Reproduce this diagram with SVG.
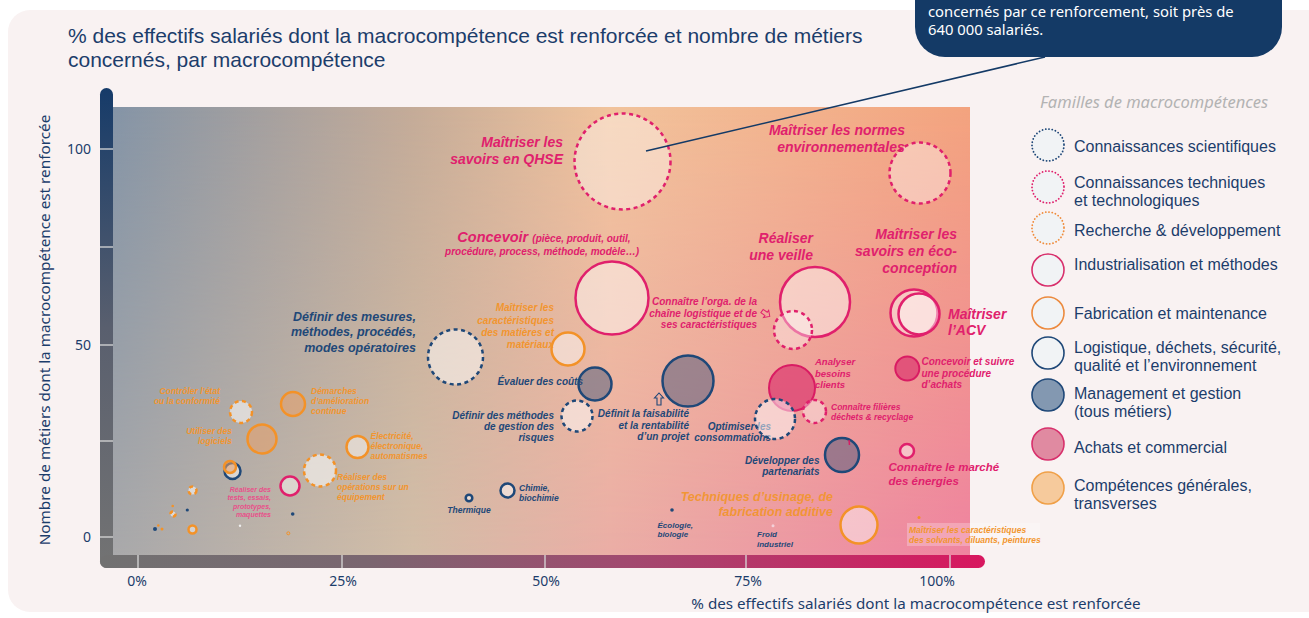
<svg xmlns="http://www.w3.org/2000/svg" width="1309" height="618" viewBox="0 0 1309 618">
<defs>
<linearGradient id="gTop" x1="0" x2="1" y1="0" y2="0">
<stop offset="0" stop-color="#8494a6"/><stop offset="0.35" stop-color="#c4ab98"/><stop offset="0.58" stop-color="#f1c39c"/><stop offset="1" stop-color="#f3a37e"/>
</linearGradient>
<linearGradient id="gBot" x1="0" x2="1" y1="0" y2="0">
<stop offset="0" stop-color="#a9a9ab"/><stop offset="0.35" stop-color="#d3bea8"/><stop offset="0.58" stop-color="#ebaea6"/><stop offset="1" stop-color="#ef84a1"/>
</linearGradient>
<linearGradient id="gV" x1="0" y1="0" x2="0" y2="1">
<stop offset="0" stop-color="#fff"/><stop offset="1" stop-color="#000"/>
</linearGradient>
<mask id="mV" maskUnits="userSpaceOnUse" x="113" y="107" width="857" height="448">
<rect x="113" y="107" width="857" height="448" fill="url(#gV)"/>
</mask>
<linearGradient id="gY" x1="0" y1="0" x2="0" y2="1">
<stop offset="0" stop-color="#163b69"/><stop offset="0.5" stop-color="#595f6e"/><stop offset="1" stop-color="#737373"/>
</linearGradient>
<linearGradient id="gX" x1="0" y1="0" x2="1" y2="0">
<stop offset="0" stop-color="#717171"/><stop offset="0.3" stop-color="#7a6670"/><stop offset="0.6" stop-color="#a2496f"/><stop offset="1" stop-color="#d8175f"/>
</linearGradient>
<style>
.ui{font-family:"Noto Sans","Liberation Sans",sans-serif;fill:#1c3d6b}
.lt{font-family:"Liberation Sans",Arial,sans-serif;fill:#1c3d6b}
.lb{font-family:"Liberation Sans",Arial,sans-serif;font-weight:bold;font-style:italic}
.pk{fill:#e0216d}.nv{fill:#1f4878}.or{fill:#f2952f}.pl{fill:#e8508a}
.dp{fill:#fff;fill-opacity:.38;stroke:#e0206c;stroke-width:2.5;stroke-dasharray:4 3.5}
.sp{fill:#fff;fill-opacity:.45;stroke:#e0206c;stroke-width:2.5}
.fp{fill:#dc3a70;fill-opacity:.72;stroke:#d91c63;stroke-width:2}
.dn{fill:#fff;fill-opacity:.5;stroke:#1f4878;stroke-width:2.5;stroke-dasharray:4 3.5}
.sn{fill:#fff;fill-opacity:.5;stroke:#1f4878;stroke-width:2.5}
.fn{fill:#3a4f78;fill-opacity:.45;stroke:#1f4878;stroke-width:2.5}
.so{fill:#fff;fill-opacity:.45;stroke:#f39228;stroke-width:2.5}
.fo{fill:#e8a06a;fill-opacity:.55;stroke:#f39228;stroke-width:2.5}
.do{fill:#fff;fill-opacity:.55;stroke:#f39228;stroke-width:2.5;stroke-dasharray:4 3.5}
.lg{stroke-width:1.6}
.dot{stroke-dasharray:0.1 3.2;stroke-linecap:round;stroke-width:1.8}
</style>
</defs>
<rect width="1309" height="618" fill="#ffffff"/>
<rect x="8" y="10" width="1330" height="602" rx="22" fill="#f9f2f2"/>

<g id="title">
<text class="lt" x="68" y="43" font-size="21">% des effectifs salariés dont la macrocompétence est renforcée et nombre de métiers</text>
<text class="lt" x="68" y="67" font-size="21">concernés, par macrocompétence</text>
</g>

<g id="plot">
<rect x="113" y="107" width="857" height="448" fill="url(#gBot)"/>
<rect x="113" y="107" width="857" height="448" fill="url(#gTop)" mask="url(#mV)"/>
</g>

<g id="axes">
<rect x="100" y="88" width="13" height="480" rx="6.5" fill="url(#gY)"/>
<rect x="100" y="555" width="885" height="13" rx="6.5" fill="url(#gX)"/>
<g stroke="#d9d9d9" stroke-width="1.3">
<line x1="100" y1="149" x2="113" y2="149"/><line x1="100" y1="247" x2="113" y2="247"/><line x1="100" y1="345" x2="113" y2="345"/><line x1="100" y1="441" x2="113" y2="441"/><line x1="100" y1="537" x2="113" y2="537"/>
<line x1="138" y1="555" x2="138" y2="568"/><line x1="342" y1="555" x2="342" y2="568"/><line x1="545" y1="555" x2="545" y2="568"/><line x1="746" y1="555" x2="746" y2="568"/><line x1="950" y1="555" x2="950" y2="568"/>
</g>
<g class="ui" font-size="14" text-anchor="end">
<text x="91" y="154">100</text><text x="91" y="350">50</text><text x="91" y="542">0</text>
</g>
<g class="ui" font-size="14" text-anchor="middle">
<text x="137" y="586">0%</text><text x="343" y="586">25%</text><text x="546" y="586">50%</text><text x="748" y="586">75%</text><text x="937" y="586">100%</text>
</g>
<text class="ui" x="916" y="609" font-size="15.2" text-anchor="middle">% des effectifs salariés dont la macrocompétence est renforcée</text>
<text class="ui" font-size="15.3" text-anchor="middle" transform="translate(50,330) rotate(-90)">Nombre de métiers dont la macrocompétence est renforcée</text>
</g>

<g id="small-points">
<circle cx="192.5" cy="490.5" r="4" class="do" stroke-width="2" stroke-dasharray="2 2"/>
<circle cx="173" cy="514" r="2.5" class="do" stroke-width="1.5" stroke-dasharray="1.5 1.5"/>
<circle cx="192.5" cy="529.5" r="4" class="so" stroke-width="2"/>
<circle cx="187.3" cy="510" r="1.6" fill="#1f4878"/>
<circle cx="155" cy="529" r="2" fill="#1f4878"/>
<circle cx="292.7" cy="514" r="1.8" fill="#1f4878"/>
<circle cx="672" cy="510" r="1.8" fill="#1f4878"/>
<circle cx="172.7" cy="506" r="1.3" fill="#f39228"/>
<circle cx="158.3" cy="525.5" r="1.3" fill="#f39228"/>
<circle cx="162" cy="529" r="1.5" fill="#f39228"/>
<circle cx="288.3" cy="533.3" r="1.5" fill="none" stroke="#f39228" stroke-width="1"/>
<circle cx="919" cy="517.5" r="1.5" fill="#f39228"/>
<circle cx="240" cy="525.7" r="1.2" fill="#eee"/>
<circle cx="773" cy="525.7" r="1.5" fill="#f3d0d8"/>
<circle cx="232.5" cy="471" r="8" class="sn"/>
<circle cx="230" cy="467" r="6" class="fo" stroke-width="2"/>
</g>

<g id="qhse">
<circle cx="622.5" cy="161.5" r="48" class="dp"/>
<text class="lb pk" font-size="14" text-anchor="end"><tspan x="563" y="147">Maîtriser les</tspan><tspan x="563" y="163.5">savoirs en QHSE</tspan></text>
</g>
<g id="normes">
<circle cx="920" cy="173" r="30.5" class="dp"/>
<text class="lb pk" font-size="14" text-anchor="middle"><tspan x="837" y="135">Maîtriser les normes</tspan><tspan x="841" y="151.5">environnementales</tspan></text>
</g>
<g id="concevoir">
<circle cx="612" cy="298" r="36.5" class="sp"/>
<text class="lb pk" text-anchor="middle"><tspan x="544" y="242" font-size="14.5">Concevoir <tspan font-size="10">(pièce, produit, outil,</tspan></tspan><tspan x="542" y="255" font-size="10">procédure, process, méthode, modèle…)</tspan></text>
</g>
<g id="veille">
<circle cx="815" cy="302" r="35" class="sp"/>
<text class="lb pk" font-size="14" text-anchor="end"><tspan x="813" y="243">Réaliser</tspan><tspan x="813" y="260">une veille</tspan></text>
</g>
<g id="eco">
<circle cx="914" cy="313" r="23.5" class="sp"/>
<text class="lb pk" font-size="14" text-anchor="end"><tspan x="957" y="239">Maîtriser les</tspan><tspan x="957" y="256">savoirs en éco-</tspan><tspan x="957" y="272.5">conception</tspan></text>
</g>
<g id="acv">
<circle cx="919" cy="314" r="20.5" class="sp" stroke-width="1.8"/>
<text class="lb pk" font-size="14"><tspan x="948" y="319">Maîtriser</tspan><tspan x="948" y="335">l’ACV</tspan></text>
</g>
<g id="orga">
<circle cx="793" cy="330" r="19" class="dp"/>
<text class="lb pk" font-size="10" text-anchor="end"><tspan x="757" y="305">Connaître l’orga. de la</tspan><tspan x="757" y="316.5">chaîne logistique et de</tspan><tspan x="757" y="328">ses caractéristiques</tspan></text>
</g>
<g id="mesures">
<circle cx="455.5" cy="357" r="27.5" class="dn"/>
<text class="lb nv" font-size="12.5" text-anchor="end"><tspan x="416" y="320.5">Définir des mesures,</tspan><tspan x="416" y="336">méthodes, procédés,</tspan><tspan x="416" y="351.5">modes opératoires</tspan></text>
</g>
<g id="materiaux">
<circle cx="568" cy="349" r="16.5" class="so"/>
<text class="lb or" font-size="10" text-anchor="end"><tspan x="554" y="311">Maîtriser les</tspan><tspan x="554" y="323.5">caractéristiques</tspan><tspan x="554" y="336">des matières et</tspan><tspan x="554" y="347.5">matériaux</tspan></text>
</g>
<g id="couts">
<text class="lb nv" font-size="10" text-anchor="end" x="583" y="385">Évaluer des coûts</text>
<circle cx="595" cy="384" r="16.5" class="fn"/>
</g>
<g id="risques">
<circle cx="577" cy="416" r="15.5" class="dn"/>
<text class="lb nv" font-size="10" text-anchor="end"><tspan x="554" y="418.5">Définir des méthodes</tspan><tspan x="554" y="429.5">de gestion des</tspan><tspan x="554" y="441">risques</tspan></text>
</g>
<g id="faisabilite">
<circle cx="688" cy="381" r="25.5" class="fn"/>
<text class="lb nv" font-size="10" text-anchor="end"><tspan x="689" y="417">Définit la faisabilité</tspan><tspan x="689" y="428.5">et la rentabilité</tspan><tspan x="689" y="440">d’un projet</tspan></text>
</g>
<g id="analyser">
<circle cx="792" cy="388" r="23" class="fp"/>
<text class="lb pk" font-size="9.5"><tspan x="815" y="365">Analyser</tspan><tspan x="815" y="376.5">besoins</tspan><tspan x="815" y="388">clients</tspan></text>
</g>
<g id="optimiser">
<text class="lb nv" font-size="10" text-anchor="end"><tspan x="771" y="429.5">Optimiser les</tspan><tspan x="771" y="441">consommations</tspan></text>
<circle cx="775" cy="419" r="20" class="dn"/>
</g>
<g id="filieres">
<circle cx="814.5" cy="411.5" r="11.5" class="dp" stroke-width="2" stroke-dasharray="3 3"/>
<text class="lb pk" font-size="8.5"><tspan x="831" y="410">Connaître filières</tspan><tspan x="831" y="420">déchets &amp; recyclage</tspan></text>
</g>
<g id="achats">
<circle cx="907.3" cy="368.5" r="12" class="fp"/>
<text class="lb pk" font-size="10"><tspan x="921.5" y="365">Concevoir et suivre</tspan><tspan x="921.5" y="376.5">une procédure</tspan><tspan x="921.5" y="388">d’achats</tspan></text>
</g>
<g id="partenariats">
<circle cx="842" cy="455" r="17" class="fn"/>
<line x1="849" y1="440" x2="849.5" y2="445" stroke="#d91c63" stroke-width="1.5"/>
<text class="lb nv" font-size="10" text-anchor="end"><tspan x="819.5" y="464">Développer des</tspan><tspan x="819.5" y="475">partenariats</tspan></text>
</g>
<g id="energies">
<circle cx="907" cy="451" r="7" class="sp" stroke-width="2.2"/>
<text class="lb pk" font-size="11.5"><tspan x="888.5" y="471">Connaître le marché</tspan><tspan x="888.5" y="484.5">des énergies</tspan></text>
</g>
<g id="usinage">
<circle cx="859" cy="525" r="18.5" class="so"/>
<text class="lb or" font-size="12.5" text-anchor="end" fill-opacity="0.95"><tspan x="833" y="501">Techniques d’usinage, de</tspan><tspan x="833" y="516">fabrication additive</tspan></text>
</g>
<g id="solvants">
<rect x="907" y="523" width="133" height="23" fill="#fff" fill-opacity="0.25"/>
<text class="lb or" font-size="8.5"><tspan x="909" y="533">Maîtriser les caractéristiques</tspan><tspan x="909" y="543">des solvants, diluants, peintures</tspan></text>
</g>
<g id="froid">
<text class="lb nv" font-size="8"><tspan x="757" y="537">Froid</tspan><tspan x="757" y="547">industriel</tspan></text>
</g>
<g id="ecologie">
<text class="lb nv" font-size="8"><tspan x="657.5" y="527.5">Écologie,</tspan><tspan x="657.5" y="537">biologie</tspan></text>
</g>
<g id="chimie">
<circle cx="507.5" cy="490.5" r="7" class="sn"/>
<text class="lb nv" font-size="8.5"><tspan x="519" y="490.5">Chimie,</tspan><tspan x="519" y="501">biochimie</tspan></text>
</g>
<g id="thermique">
<circle cx="469" cy="498" r="3.3" class="sn" stroke-width="2"/>
<text class="lb nv" font-size="8.5" text-anchor="middle" x="469" y="513">Thermique</text>
</g>
<g id="electricite">
<circle cx="357.5" cy="447" r="11" class="so"/>
<text class="lb or" font-size="8.5"><tspan x="370.5" y="439">Électricité,</tspan><tspan x="370.5" y="449">électronique,</tspan><tspan x="370.5" y="459">automatismes</tspan></text>
</g>
<g id="operations">
<circle cx="320" cy="470.5" r="16" class="do"/>
<text class="lb or" font-size="8.5"><tspan x="337" y="480">Réaliser des</tspan><tspan x="337" y="490">opérations sur un</tspan><tspan x="337" y="500">équipement</tspan></text>
</g>
<g id="demarches">
<circle cx="293" cy="404" r="12" class="fo"/>
<text class="lb or" font-size="8.5"><tspan x="311" y="394">Démarches</tspan><tspan x="311" y="404">d’amélioration</tspan><tspan x="311" y="414">continue</tspan></text>
</g>
<g id="logiciels">
<circle cx="262" cy="439" r="14.5" class="fo"/>
<text class="lb or" font-size="8.5" text-anchor="end"><tspan x="232" y="434">Utiliser des</tspan><tspan x="232" y="444">logiciels</tspan></text>
</g>
<g id="controler">
<circle cx="241" cy="412" r="11" class="do"/>
<text class="lb or" font-size="8.5" text-anchor="end"><tspan x="220" y="394">Contrôler l’état</tspan><tspan x="220" y="404">ou la conformité</tspan></text>
</g>
<g id="tests">
<circle cx="290" cy="486" r="9.5" class="sp"/>
<text class="lb pl" font-size="7" text-anchor="end"><tspan x="271" y="491.5">Réaliser des</tspan><tspan x="271" y="500">tests, essais,</tspan><tspan x="271" y="508.5">prototypes,</tspan><tspan x="271" y="517">maquettes</tspan></text>
</g>

<g id="callout">
<rect x="915" y="-40" width="367" height="97" rx="30" fill="#143a66"/>
<text font-family="Noto Sans, Liberation Sans, sans-serif" font-size="14.8" fill="#ffffff"><tspan x="928" y="17">concernés par ce renforcement, soit près de</tspan><tspan x="928" y="35">640 000 salariés.</tspan></text>
</g>

<g id="connectors">
<line x1="1045" y1="57" x2="646" y2="151" stroke="#143a66" stroke-width="1.5"/>
<path d="M0,-2 H5 V-4.5 L9.5,0 L5,4.5 V2 H0 Z" transform="translate(762,311) rotate(35)" fill="none" stroke="#e0216d" stroke-width="1"/>
<path d="M-2,9 V2 H-4.5 L0,-3 L4.5,2 H2 V9 Z" transform="translate(659,396)" fill="none" stroke="#1f4878" stroke-width="1.1"/>
</g>

<g id="legend">
<text font-family="Noto Sans, Liberation Sans, sans-serif" font-style="italic" font-size="16.5" fill="#b3b3b3" x="1040" y="108">Familles de macrocompétences</text>
<g fill="#f1f3f5">
<circle cx="1048" cy="145" r="16" stroke="#1f4878" class="dot"/>
<circle cx="1048" cy="187" r="16" stroke="#e0216d" class="dot"/>
<circle cx="1048" cy="228" r="16" stroke="#f08c3c" class="dot"/>
<circle cx="1048" cy="270" r="16" stroke="#d8306c" class="lg"/>
<circle cx="1048" cy="313" r="16" stroke="#ec8a3e" class="lg"/>
<circle cx="1048" cy="353" r="16" stroke="#1f4878" class="lg"/>
<circle cx="1048" cy="395" r="16" stroke="#1f4878" fill="#8398b1" class="lg"/>
<circle cx="1048" cy="444" r="16" stroke="#d8306c" fill="#e08aa1" class="lg"/>
<circle cx="1048" cy="488" r="16" stroke="#f0a048" fill="#f6ca9c" class="lg"/>
</g>
<g class="lt" font-size="16">
<text x="1074" y="152">Connaissances scientifiques</text>
<text x="1074" y="188">Connaissances techniques</text>
<text x="1074" y="206">et technologiques</text>
<text x="1074" y="236">Recherche &amp; développement</text>
<text x="1074" y="270">Industrialisation et méthodes</text>
<text x="1074" y="319">Fabrication et maintenance</text>
<text x="1074" y="352.5">Logistique, déchets, sécurité,</text>
<text x="1074" y="370.5">qualité et l’environnement</text>
<text x="1074" y="399">Management et gestion</text>
<text x="1074" y="417">(tous métiers)</text>
<text x="1074" y="453">Achats et commercial</text>
<text x="1074" y="491">Compétences générales,</text>
<text x="1074" y="509">transverses</text>
</g>
</g>
</svg>
